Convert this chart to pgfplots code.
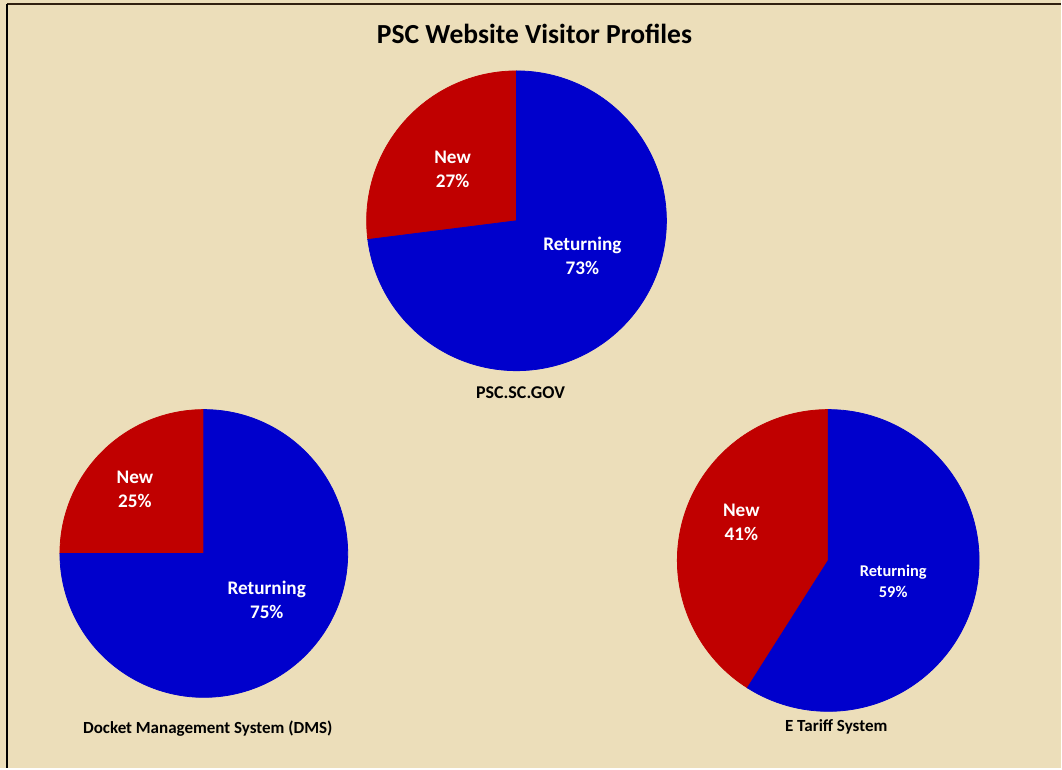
\documentclass[border=0pt]{standalone}
\usepackage{pgfplots}
\pgfplotsset{compat=1.18}
\usepackage{pgfplotstable}
\usepackage{fontspec}
\setmainfont{Carlito}
\definecolor{parch}{RGB}{236,222,186}
\definecolor{newred}{RGB}{192,0,0}
\definecolor{retblue}{RGB}{0,0,204}
\pgfdeclareplotmark{empty}{}
% pie centre (x,y in picture units), radius (pt), share (%)
\pgfplotstableread{
x y r pct
517 548 75 27
204 215 72 25
829 208 75.5 41
}\newdata
\pgfplotstableread{
x y r pct
517 548 75 73
204 215 72 75
829 208 75.5 59
}\retdata
\begin{document}
\begin{tikzpicture}
\pgfplotsset{set layers}
\begin{axis}[
  x=0.5pt, y=0.5pt,
  xmin=0, xmax=1062, ymin=0, ymax=769,
  hide axis, clip=false,
  axis background/.style={fill=parch},
]
% background border
\draw[black!75!brown, line width=1pt] (axis cs:7,765) -- (axis cs:1062,765);
\draw[black, line width=1pt] (axis cs:7.5,765) -- (axis cs:7.5,0);
% New wedges
\addplot[scatter, only marks, mark=empty,
  visualization depends on={\thisrow{r} \as \rad},
  visualization depends on={\thisrow{pct} \as \pct},
  scatter/@pre marker code/.code={%
    \fill[newred] (0,0) -- (90:\rad pt) arc[start angle=90, delta angle=3.6*\pct, radius=\rad pt] -- cycle;},
  scatter/@post marker code/.code={},
] table[x=x, y=y] {\newdata};
% Returning wedges
\addplot[scatter, only marks, mark=empty,
  visualization depends on={\thisrow{r} \as \rad},
  visualization depends on={\thisrow{pct} \as \pct},
  scatter/@pre marker code/.code={%
    \fill[retblue] (0,0) -- (90:\rad pt) arc[start angle=90, delta angle=-3.6*\pct, radius=\rad pt] -- cycle;},
  scatter/@post marker code/.code={},
] table[x=x, y=y] {\retdata};
% labels
\tikzset{lab/.style={text=white, font=\bfseries\fontsize{9.6}{12}\selectfont, align=center, inner sep=0pt},
         labs/.style={text=white, font=\bfseries\fontsize{8.2}{10.5}\selectfont, align=center, inner sep=0pt},
         ttl/.style={text=black, font=\bfseries\fontsize{8.5}{10}\selectfont, inner sep=0pt}}
\begin{pgfonlayer}{axis foreground}
\node[lab] at (axis cs:453,599) {New\\27\%};
\node[lab] at (axis cs:583,513) {Returning\\73\%};
\node[lab] at (axis cs:135,279) {New\\25\%};
\node[lab] at (axis cs:267,169) {Returning\\75\%};
\node[lab] at (axis cs:742,246) {New\\41\%};
\node[labs] at (axis cs:894,187) {Returning\\59\%};
\node[ttl, font=\bfseries\fontsize{9}{10}\selectfont] at (axis cs:521,376) {PSC.SC.GOV};
\node[ttl] at (axis cs:208,40) {Docket Management System (DMS)};
\node[ttl] at (axis cs:837,41) {E Tariff System};
\node[text=black, font=\bfseries\fontsize{13.8}{16}\selectfont, inner sep=0pt] at (axis cs:535,735) {PSC Website Visitor Profiles};
\end{pgfonlayer}
\end{axis}
\end{tikzpicture}
\end{document}
